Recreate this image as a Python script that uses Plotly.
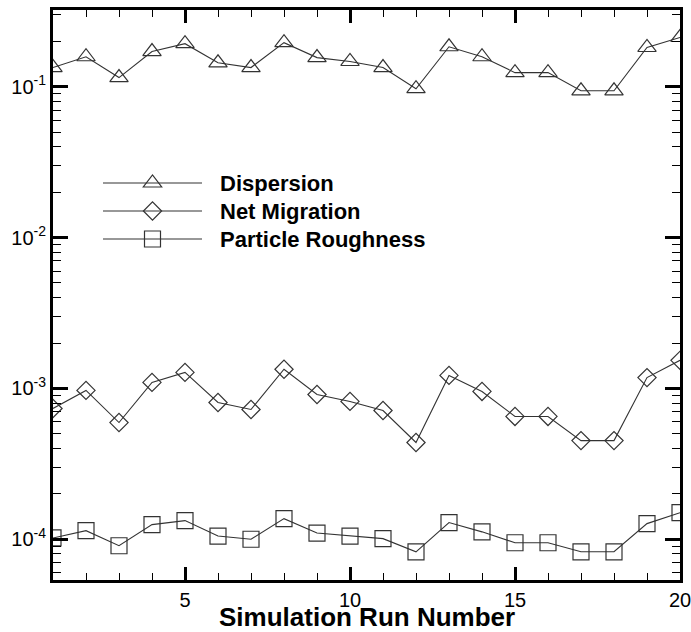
import math
import plotly.graph_objects as go

# ---- data ----
run_number = list(range(1, 21))
dispersion = [0.134, 0.158, 0.115, 0.171, 0.193, 0.144, 0.134, 0.196, 0.156, 0.147,
              0.134, 0.097, 0.184, 0.158, 0.124, 0.124, 0.094, 0.094, 0.182, 0.212]
net_migration = [7.36e-4, 9.7e-4, 5.94e-4, 1.096e-3, 1.277e-3, 8.07e-4, 7.25e-4, 1.34e-3, 9.12e-4, 8.2e-4,
                 7.14e-4, 4.38e-4, 1.22e-3, 9.55e-4, 6.52e-4, 6.52e-4, 4.51e-4, 4.51e-4, 1.18e-3, 1.535e-3]
particle_roughness = [1.02e-4, 1.14e-4, 9.06e-5, 1.25e-4, 1.33e-4, 1.05e-4, 1.0e-4, 1.37e-4, 1.10e-4, 1.05e-4,
                      1.01e-4, 8.26e-5, 1.29e-4, 1.12e-4, 9.48e-5, 9.48e-5, 8.26e-5, 8.26e-5, 1.27e-4, 1.5e-4]
series_names = ["Dispersion", "Net Migration", "Particle Roughness"]
x_tickvals = [5, 10, 15, 20]
x_ticktext = ["5", "10", "15", "20"]
y_tickvals = [1e-4, 1e-3, 1e-2, 1e-1]
y_ticktext = ["10<sup>-4</sup>", "10<sup>-3</sup>", "10<sup>-2</sup>", "10<sup>-1</sup>"]
x_title = "Simulation Run Number"

# ---- layout constants ----
W, H = 691, 632
ML, MR, MT, MB = 53, 11, 10, 52
PW, PH = W - ML - MR, H - MT - MB
X_RANGE = [1, 20]
Y_LOG_RANGE = [-4.27, -0.4914]
INK = "#333333"
FONT = "Liberation Sans, Arial, Helvetica, sans-serif"
symbols = ["triangle-up-open", "diamond-open", "square-open"]
sizes = [16, 14, 16]
# legend marker outlines in pixel offsets (y points up in pixel-sized shapes)
legend_paths = [
    "M-9.2,-4 L9.2,-4 L0,8 Z",
    "M-9.1,0 L0,-9.1 L9.1,0 L0,9.1 Z",
    "M-8,-8 L8,-8 L8,8 L-8,8 Z",
]

# minor tick positions (every run number; 2..9 within each decade)
x_minor = [v for v in range(X_RANGE[0], X_RANGE[1] + 1) if v not in x_tickvals]
y_minor = [m * 10.0 ** e for e in range(math.floor(Y_LOG_RANGE[0]), math.ceil(Y_LOG_RANGE[1]) + 1)
           for m in range(2, 10) if Y_LOG_RANGE[0] < math.log10(m * 10.0 ** e) < Y_LOG_RANGE[1]]


def px_to_paper(px, py):
    return (px - ML) / PW, (H - MB - py) / PH


fig = go.Figure()
for name, vals, sym, sz in zip(series_names, [dispersion, net_migration, particle_roughness], symbols, sizes):
    fig.add_trace(go.Scatter(
        x=run_number, y=vals, name=name, mode="lines+markers",
        line=dict(color=INK, width=1.1),
        marker=dict(symbol=sym, size=sz, color=INK, line=dict(color=INK, width=1.2)),
        showlegend=False,
    ))

shapes = []
annotations = []

# ---- custom legend (long sample lines like the original) ----
legend_rows_py = [183, 211, 239]
line_x0, line_x1, mark_x, text_x = 103, 202, 152.5, 218
for i, (name, py) in enumerate(zip(series_names, legend_rows_py)):
    x0, y0 = px_to_paper(line_x0, py)
    x1, _ = px_to_paper(line_x1, py)
    shapes.append(dict(type="line", xref="paper", yref="paper", x0=x0, x1=x1, y0=y0, y1=y0,
                       line=dict(color=INK, width=1.1)))
    mx, my = px_to_paper(mark_x, py)
    shapes.append(dict(type="path", xref="paper", yref="paper", xsizemode="pixel", ysizemode="pixel",
                       xanchor=mx, yanchor=my, path=legend_paths[i],
                       line=dict(color=INK, width=1.2), fillcolor="rgba(0,0,0,0)"))
    tx, ty = px_to_paper(text_x, py)
    annotations.append(dict(text=f"<b>{name}</b>", xref="paper", yref="paper", x=tx, y=ty,
                            xanchor="left", yanchor="middle", showarrow=False,
                            font=dict(family=FONT, size=22, color="black")))

# x-axis title placed as annotation so it fits the bottom margin
tx, ty = px_to_paper(ML + PW / 2, 617)
annotations.append(dict(text=f"<b>{x_title}</b>", xref="paper", yref="paper", x=tx, y=ty,
                        xanchor="center", yanchor="middle", showarrow=False,
                        font=dict(family=FONT, size=26, color="black")))

fig.update_layout(
    template="none",
    width=W, height=H,
    margin=dict(l=ML, r=MR, t=MT, b=MB, pad=0),
    plot_bgcolor="white", paper_bgcolor="white",
    font=dict(family=FONT, size=20, color="black"),
    shapes=shapes, annotations=annotations,
    showlegend=False,
    xaxis=dict(
        range=X_RANGE, tickmode="array", tickvals=x_tickvals, ticktext=x_ticktext,
        showgrid=False, zeroline=False, automargin=False,
        showline=True, linecolor="black", linewidth=3, mirror="allticks",
        ticks="inside", ticklen=13, tickwidth=3, tickcolor="black",
        minor=dict(tickmode="array", tickvals=x_minor, ticks="inside", ticklen=7, tickwidth=1.3,
                   tickcolor="black", showgrid=False),
        ticklabeloverflow="allow",
        tickfont=dict(size=20),
    ),
    yaxis=dict(
        type="log", range=Y_LOG_RANGE,
        tickmode="array", tickvals=y_tickvals, ticktext=y_ticktext,
        showgrid=False, zeroline=False, automargin=False,
        showline=True, linecolor="black", linewidth=3, mirror="allticks",
        ticks="inside", ticklen=15, tickwidth=3, tickcolor="black",
        minor=dict(tickmode="array", tickvals=y_minor, ticks="inside", ticklen=8, tickwidth=1.3,
                   tickcolor="black", showgrid=False),
        ticklabeloverflow="allow",
        tickfont=dict(size=20),
    ),
)

fig.write_html("out.html", config={"displayModeBar": False},
               post_script="document.body.style.margin='0px';")
